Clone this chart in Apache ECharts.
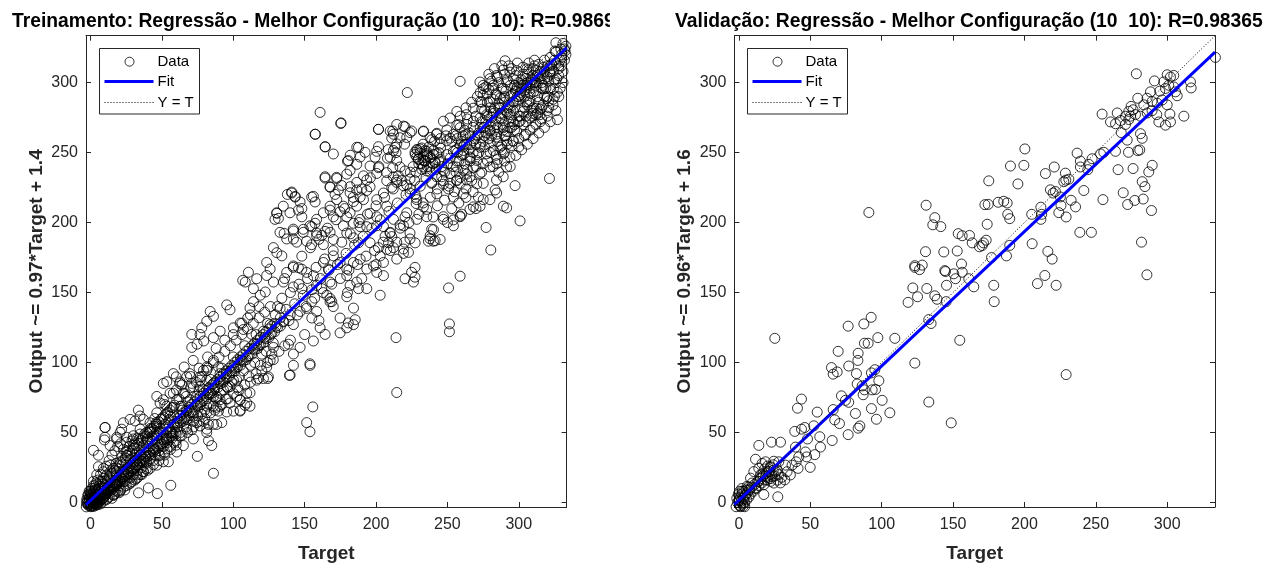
<!DOCTYPE html>
<html><head><meta charset="utf-8">
<script src="https://cdn.jsdelivr.net/npm/echarts@6/dist/echarts.min.js"></script>
<style>html,body{margin:0;padding:0;background:#fff}#c{width:1277px;height:568px}</style>
</head><body><div id="c"></div>
<script>
// ---------- data ----------
const ticks = [0, 50, 100, 150, 200, 250, 300];
const axisRange = [-3.2, 333.5];
const titles = ['Treinamento: Regressão - Melhor Configuração (10  10): R=0.98695',
                'Validação: Regressão - Melhor Configuração (10  10): R=0.98365'];
const yLabels = ['Output ~= 0.97*Target + 1.4', 'Output ~= 0.96*Target + 1.6'];
const xLabel = 'Target';
const legendNames = ['Data', 'Fit', 'Y = T'];
const trainFit = [[-3.2, -1.7], [333.5, 324.9]];
const valFit = [[-3.2, -1.5], [333.5, 321.8]];
const identityLine = [[-3.2, -3.2], [333.5, 333.5]];

const trainSparse = [
[175.3,270.8],[157.3,263.1],[164.4,254.0],[201.7,266.6],[211.7,265.4],[211.0,260.3],[214.5,270.1],[220.3,268.5],[225.0,265.4],[216.8,260.6],[208.6,252.1],[213.3,253.7],[200.5,250.9],[199.3,246.7],[187.7,253.7],[192.3,250.2],[181.9,248.1],[180.0,243.9],[186.5,241.6],[170.1,249.0],[233.2,265.0],[239.0,259.2],[242.6,263.8],[249.6,266.2],[256.6,269.6],[262.5,262.6],[265.8,255.6],[270.6,248.6],[258.9,255.6],[251.9,260.3],[245.2,253.3],
[228.5,252.1],[230.8,249.8],[233.2,247.4],[235.5,250.9],[237.9,246.3],[229.7,245.1],[227.4,248.6],[234.4,243.9],[240.2,248.6],[232.0,253.3],[241.4,242.8],[244.9,245.1],[249.6,248.6],[254.2,250.9],[256.6,243.9],[261.2,248.6],[265.9,243.9],[268.2,239.2],[263.5,234.6],[258.9,232.3],[270.6,227.6],
[201.7,239.2],[207.5,235.7],[211.7,239.2],[215.6,233.4],[220.3,236.9],[223.8,231.1],[207.5,229.9],[211.0,225.2],[214.5,228.7],[219.2,226.3],[223.8,224.0],[227.4,220.1],[195.8,240.4],[191.2,233.4],[186.5,228.7],[193.5,222.9],[188.9,218.2],[179.5,234.6],[172.4,232.3],[175.9,226.5],[167.8,225.2],[164.3,231.8],[171.3,220.1],[181.8,221.3],[184.2,215.0],[235.5,236.9],[239.0,228.7],[242.6,220.5],[247.2,227.4],[250.7,224.0],[254.2,218.2],[256.6,229.9],[261.2,220.5],[268.2,211.2],[271.7,218.2],[247.2,204.2],[254.2,201.9],[258.9,204.2],[240.2,194.9],[244.9,187.9],[237.8,188.4],[236.7,186.7],[240.2,186.7],[233.2,211.2],[235.5,204.2],[228.1,213.6],
[137.9,220.1],[140.9,221.8],[143.3,218.2],[146.8,214.7],[145.6,208.9],[148.0,210.0],[154.9,218.2],[157.3,214.7],[148.0,204.1],[130.5,206.6],[131.6,203.0],[135.6,192.3],[154.9,197.1],[157.3,199.5],[158.4,192.5],[164.3,193.7],[167.8,208.9],[170.1,204.1],[174.8,207.7],[179.5,204.1],[184.2,199.5],[188.9,197.1],[193.5,197.1],[179.5,192.5],[184.2,189.1],[187.7,185.6],[195.8,206.6],[200.5,204.1],[205.2,197.1],[209.8,192.5],[206.3,190.2],[208.7,185.6],[212.2,182.1],[201.7,182.1],[195.8,185.6],[170.1,187.9],[163.1,184.2],[151.4,186.7],[154.9,184.2],[149.1,195.2],[142.1,194.0],[142.1,188.2],[162.0,190.8],[216.8,198.3],[220.3,204.1],[223.8,192.5],[227.4,185.5],[222.7,178.7],[219.2,181.1],[214.5,173.9],
[128.1,182.1],[130.5,178.5],[134.0,176.2],[123.4,171.5],[125.8,166.8],[123.4,162.2],[128.1,157.5],[135.1,157.5],[137.4,164.4],[142.1,169.0],[145.6,167.8],[148.0,166.7],[151.4,164.4],[156.1,162.1],[158.4,155.1],[161.9,152.8],[165.5,148.1],[167.8,145.8],[155.0,143.5],[148.0,152.8],[142.1,154.0],[116.4,159.9],[110.6,164.5],[108.4,157.5],[114.1,152.8],[118.9,148.1],[122.4,150.4],[114.1,143.5],[111.7,138.9],[106.6,158.7],[170.1,176.2],[174.8,171.5],[179.5,166.8],[184.2,171.5],[188.9,173.8],[193.5,166.8],[198.2,169.0],[200.5,164.4],[202.9,176.2],[205.2,171.5],[207.5,180.8],[205.2,162.1],[193.5,152.8],[186.5,157.5],[181.8,155.1],[179.5,162.1],[202.9,148.1],[220.3,159.9],[224.9,164.5],[227.3,168.0],[227.3,161.0],[226.2,157.5],[258.9,161.7],[250.8,153.3],[219.2,178.0],[163.1,171.5],[166.6,166.8],[167.8,157.5],[169.0,143.5],[179.5,147.0],[187.7,152.8],[184.2,138.9],[251.4,127.6],[251.4,122.0],
[95.4,141.2],[97.7,137.7],[83.8,136.5],[86.1,133.0],[81.4,129.5],[77.9,124.8],[76.7,120.1],[70.9,120.1],[70.9,110.8],[74.6,113.1],[79.3,115.4],[86.1,117.8],[90.8,122.4],[100.1,124.8],[104.8,128.2],[110.1,131.8],[107.1,123.6],[112.9,120.1],[116.4,113.1],[121.1,122.4],[125.8,127.1],[129.4,134.1],[132.8,138.7],[135.1,129.5],[139.8,134.1],[142.1,127.1],[146.8,136.5],[151.4,138.7],[155.0,131.8],[158.4,136.5],[160.8,124.8],[164.3,120.1],[167.8,143.4],[174.8,131.8],[180.6,128.3],[184.2,127.1],[185.4,130.6],[174.8,121.2],[179.5,124.8],[156.1,115.4],[153.7,99.1],[142.1,106.1],[138.6,113.1],[146.8,110.8],[128.1,110.8],[125.8,101.5],[123.4,96.8],[139.8,91.0],[214.0,117.8],[214.5,78.6],[155.7,68.3],[151.4,57.1],[153.7,50.6],
[53.4,86.3],[51.0,73.4],[62.4,85.1],[60.1,80.4],[63.6,68.8],[67.0,75.8],[69.4,92.1],[71.9,101.5],[65.6,96.8],[60.0,89.8],[70.9,85.1],[76.7,89.8],[79.1,94.4],[81.4,96.8],[86.1,101.5],[89.6,96.8],[76.7,82.8],[81.4,87.4],[83.8,78.1],[90.8,87.4],[95.4,92.1],[100.1,96.8],[104.8,101.5],[102.4,87.4],[97.7,82.8],[104.8,73.4],[109.4,78.1],[116.4,87.4],[121.1,88.6],[124.6,89.8],[111.7,68.8],[104.8,65.3],[100.1,65.3],[90.8,68.8],[86.1,75.8],[81.4,68.8],[77.9,63.0],[74.4,57.1],[72.1,61.8],[67.4,65.3],[63.9,59.5],[58.1,55.9],[53.4,52.4],[48.7,50.1],[46.4,54.7],[44.1,47.7],[41.8,50.1],[39.4,45.4],[34.7,48.9],[30.0,45.4],[25.4,46.6],[20.7,50.1],[18.3,46.6],[10.1,53.6],[10.1,46.6],[76.7,54.7],[81.4,52.4],[86.1,55.9],[89.6,65.3],[91.9,57.1],
[326.0,328.5],[325.4,322.6],[332.4,322.6],[323.1,313.3],[290.4,315.6],[288.1,312.1],[258.9,300.9],[221.9,292.9],[160.8,278.7],[175.5,271.2],[157.5,263.1],[164.3,254.2],[201.7,266.6],[321.5,231.5],[327.1,273.5],[297.4,226.4],[283.4,223.3],[300.9,201.2],[277.1,196.5],[280.4,180.4],
[186.5,253.8],[188.8,246.8],[180.6,244.3],[181.8,237.3],[164.3,232.7],[172.5,231.5],[167.8,225.6],[173.6,223.3],[181.8,225.6],[186.5,223.3],[193.5,230.4],[200.5,235.1],[201.7,254.2],[209.9,265.4],[212.2,263.1],[219.2,268.9],[223.8,264.3],[221.5,260.8],[214.5,256.2],[212.2,251.5],[209.9,246.8],[214.5,244.4],[216.8,239.7],[212.2,232.7],[214.5,230.4],[221.5,226.9],[223.8,221.1],[228.5,216.4],[233.2,265.4],[237.9,260.8],[242.5,263.1],[247.2,272.4],[251.9,274.7],[256.6,279.4],[263.4,277.1],[268.1,281.7],[272.8,286.4],[275.1,295.7],[272.8,300.4],[279.8,302.8],[284.5,305.1],[293.8,307.5],[298.5,308.6],[305.6,309.8],[312.5,308.6],[317.2,310.9],[321.9,307.5],[326.6,302.8],[324.3,295.7],[319.6,288.7],[312.5,281.7],[314.9,277.1],[307.9,274.7],[305.6,286.4],[310.3,293.4],[303.2,298.1],[298.5,295.7],[296.2,286.4],[293.8,277.1],[298.5,265.4],[296.2,258.4],[293.8,246.8],[291.5,239.7],[289.1,232.7],[284.4,230.4],[275.1,228.0],[272.8,235.1],[265.8,232.7],[261.1,237.3],[256.4,239.7],[251.8,235.1],[247.1,237.3],[242.5,232.7],[237.7,239.7],[233.2,244.4],[228.5,246.8],[230.8,252.6],[235.5,249.1],[240.2,251.5],[244.8,256.1],[249.5,258.4],[254.2,263.1],[258.9,267.8],[263.5,270.1],[268.2,272.4],[272.9,274.7],[277.5,277.1],[282.2,279.4],[286.9,281.7],[289.2,288.7],[284.5,291.0],[279.8,286.4],[275.1,267.8],[279.8,265.4],[284.5,263.1],[289.2,267.8],[286.9,253.8],[282.2,251.5],[277.5,249.1],[272.9,253.8],[268.2,258.4],[263.5,256.1],[261.1,251.5],[265.8,246.8],[270.5,244.4],[275.1,242.1],[279.8,239.7],[284.5,242.1],[289.2,249.1],[291.5,258.4],[293.8,267.8],[300.9,272.4],[303.2,279.4],[307.9,300.4],[314.9,302.8],[317.2,295.7],[291.5,300.4],[289.2,295.7],[296.2,302.8],[300.9,291.0],[282.2,298.1],[286.9,274.7],[291.5,279.4],
[227.3,250.2],[229.7,245.6],[232.0,242.1],[234.4,251.4],[237.9,246.7],[241.3,243.2],[233.2,239.7],[242.5,249.0],
[246.0,232.7],[251.9,228.0],[256.6,230.4],[263.5,230.4],[275.1,216.4],[279.8,216.4],[284.5,221.1],[289.2,211.7],[291.5,210.5],[272.9,211.7],[265.8,209.4],[258.9,204.7],[254.2,197.7],[247.2,202.3],[239.0,195.3],[235.5,209.4],[237.9,190.6],[241.4,187.1],[228.5,202.3],[221.5,207.0],[219.2,197.7],[212.2,202.3],[207.5,211.7],[205.2,221.1],[200.5,216.4],[195.8,225.6],[191.2,216.4],[186.5,211.7],[181.8,207.0],[177.1,211.7],[172.5,216.4],[167.8,211.7],[163.1,207.0],[158.4,202.3],[153.7,197.7],[149.0,193.0],[142.0,195.3],[139.7,207.0],[135.0,211.7],[130.4,207.0],[129.2,202.3],[132.7,193.0],[137.4,188.3],[144.4,186.0],[158.4,190.6],[167.8,193.0],[177.1,197.7],[188.8,202.3],[200.5,197.7],[209.9,193.0],[214.5,186.0],[223.8,188.3],[140.9,221.1],[143.3,218.7],[156.1,218.7],
[139.3,90.9],[153.8,98.0],[142.1,98.0],[124.1,88.6],[117.6,88.6],[111.7,78.4],[108.2,69.4],[104.7,65.9],[95.4,64.7],[86.1,20.9],[74.8,33.0],[84.9,40.7],[82.6,44.2],[81.4,50.0],[82.6,55.8],[88.4,55.8],[54.5,29.1],[56.2,12.3],[46.8,6.4],[33.6,6.9],[40.5,10.4],[20.7,8.1],[16.0,5.7],[10.2,53.6],[9.7,44.7],[2.0,37.3],[5.5,33.8],[5.5,25.6],
[46.4,75.8],[51.0,85.1],[58.0,92.1],[62.7,86.2],[67.4,89.8],[72.0,82.6],[76.7,87.4],[81.4,94.4],[86.1,85.1],[90.7,92.1],[95.4,82.8],[100.1,87.4],[102.4,75.8],[97.7,71.1],[90.7,73.4],[86.1,68.8],[81.4,64.1],[76.7,71.1],[72.0,64.1],[67.4,59.4],[62.7,68.8],[60.4,57.0],[55.7,61.8],[51.0,54.8],[46.4,64.1],[41.7,57.0],[37.0,59.4],[34.7,52.4],[27.7,59.4],[23.0,57.0],[21.8,52.4],[33.5,66.0],[31.2,58.3],[34.7,61.8],[18.3,45.4],[13.7,40.7],[25.3,43.1],[30.0,47.7],[39.3,43.1],[44.0,38.3],[48.7,33.6],[53.4,38.3],[58.0,43.1],[62.7,47.7],[67.4,52.4],[72.0,45.4],[65.0,40.7],[60.4,36.1],[51.0,29.1],[46.4,26.7],[41.7,24.4],[37.0,22.1],[32.3,19.7],[27.7,17.4],[23.0,15.1],[18.3,12.7],[13.7,10.4],[9.0,8.1],[4.3,5.7],[2.0,1.1],[-0.4,-1.3],[0.8,3.4],[6.7,1.1],[3.2,10.5],[6.7,15.1],[11.3,19.7],[16.0,24.4],[20.7,29.1],[25.3,33.8],[30.0,38.5],[34.7,33.8],[39.3,29.1],[30.0,29.1],[23.0,22.1],[18.3,19.8],[9.0,17.4],[13.7,26.7],[9.0,24.4],[4.3,19.8],[2.0,15.1],[-0.4,8.1],[-1.5,5.7],[-2.7,2.2],[4.3,-1.3],[9.0,3.4],[46.4,47.7],[51.0,45.4],[55.7,50.1],[39.3,50.1],[74.4,75.8],[69.8,73.4],[65.0,78.1],[60.4,73.4],[55.7,78.1],[53.4,68.8],[48.7,71.1],[79.1,80.4],[83.7,78.1],[88.4,75.8],[93.1,80.4],[104.7,73.4],[109.4,71.1]
];

const trainDenseLow = [
[-3.0,-3.1],[-2.5,0.5],[-2,2],[-1.5,-2],[-1,1],[-0.5,4],[0,-1],[0.5,2.5],[1,-2.5],[1.5,0],[2,3],[2.5,-1],[3,1.5],[3.5,5],[4,-0.5],[4.5,2],[5,6],[5.5,3],[6,0.5],[6.5,4.5],[7,8],[7.5,2],[8,5.5],[8.5,10],[9,3.5],[9.5,7],[10,12],[10.5,5],[11,9],[11.5,14],[12,7],[0,7],[1,10],[2,12],[3,9],[-2,5],[-1,8],[4,14],[6,12],[8,15],[-2.8,-0.5],[0.2,-3],[2.2,-2.8],[3.8,-2],[5.2,-1.5],
[0.5,0.5],[1.5,2],[2.5,4],[3.5,1],[4.5,3.5],[5.5,5],[6.5,2.5],[7.5,6],[8.5,3],[9.5,8.5],[10.5,6.5],[11.5,10],[12.5,8],[13.5,12],[14.5,9],[15.5,14],[16.5,11],[17.5,16],[18.5,13],[19.5,18],[20.5,15],[21.5,20],[22.5,17],[23.5,22],[24.5,19],[25.5,24],[26.5,21],[27.5,26],[28.5,23],[29.5,28],[30.5,25],[31.5,30],[32.5,27],[33.5,32],[34.5,29],[35.5,34],[36.5,31],[37.5,36],[38.5,33],[39.5,38],[1,6],[3,12],[5,16],[7,20],[9,22],[11,26],[13,30],[15,34],[17,37],[19,40],[21,42],[23,38],[25,36],[27,40],[29,44],[31,42],[33,46],[-1,-2],[0,-2.5],[2,-2],[3,-1],[5,0],[7,-1],[9,1],[11,2],[13,4],[15,3],[17,6],[19,8],[21,9],[23,11],[25,12],[27,13],[29,15],[31,16],[33,18],[35,20],[37,22],[39,24],[-2,-1],[-1,3],[0,5],[1,1],[2,8],[4,9],[6,10],
[13,10],[14,16],[15,12],[16,19],[17,14],[18,22],[19,16],[20,24],[21,18],[22,27],[23,20],[24,15],[25,29],[26,22],[27,18],[28,31],[29,25],[30,20],[31,34],[32,27],[33,23],[34,37],[35,30],[36,25],[37,41],[38,33],[39,28],[40,44],[41,36],[42,31],[43,47],[44,39],[45,34],[46,50],[47,42],[48,37],[49,53],[50,45],[51,40],[52,56],[53,48],[54,43],[55,59],[56,51],[57,46],[58,62],[59,54],[60,49],[14,22],[18,28],[22,33],[26,37],[30,41],[34,45],[38,49],[42,53],[46,57],[16,8],[20,12],[24,9],[28,14],[32,17],[36,20],[40,23],[44,27],[48,30],[52,34],[56,38],[60,41],[12,3],[16,5],[20,7],
[1.2,4.2],[2.8,6.4],[4.1,7.8],[5.6,9.9],[7.2,11.4],[8.8,12.8],[10.3,15.3],[11.9,17.0],[13.4,18.6],[15.0,20.8],[16.6,22.9],[18.1,24.6],[19.7,26.3],[21.2,28.4],[22.8,30.1],[24.4,31.8],[25.9,33.6],[27.5,35.2],[29.0,36.9],[30.6,39.0],[32.2,40.8],[33.7,42.4],[35.3,44.1],[36.8,46.0],[38.4,47.5],[40.0,49.2],[41.5,51.0],[43.1,52.6],[44.6,54.3],[46.2,56.0],[1.8,-0.8],[3.3,0.6],[4.9,1.9],[6.4,3.2],[8.0,4.7],[9.6,6.0],[11.1,7.3],[12.7,8.8],[14.2,10.1],[15.8,11.5],[17.4,12.9],[18.9,14.3],[20.5,15.7],[22.0,17.1],[23.6,18.4],[25.2,19.9],[26.7,21.2],[28.3,22.6],[29.8,24.0],[31.4,25.3],[33.0,26.8],[34.5,28.1],[36.1,29.5],[37.6,30.9],[39.2,32.2],[40.8,33.7],[42.3,35.0],[43.9,36.4],[45.4,37.8],[47.0,39.1],[48.6,40.6],[50.1,41.9],[51.7,43.3],[53.2,44.7],[54.8,46.0],[56.4,47.5],[57.9,48.8],[59.5,50.2],[47.8,57.7],[49.3,59.3],[50.9,61.0],[52.4,62.8],[54.0,64.5],[55.6,66.1],[57.1,67.8],[58.7,69.6]
];

const trainDenseMid = [
[62,58],[64,66],[66,60],[68,72],[70,64],[72,58],[74,70],[76,80],[78,72],[80,66],[82,78],[84,88],[86,80],[88,74],[90,86],[92,96],[94,88],[96,82],[98,94],[100,104],[102,96],[104,90],[106,102],[108,112],[110,104],[112,98],[114,110],[116,120],[118,112],[120,106],[122,118],[124,128],[126,120],[128,114],[130,126],[63,50],[67,54],[71,52],[75,62],[79,58],[83,70],[87,66],[91,78],[95,74],[99,86],[103,82],[107,94],[111,90],[115,100],[119,98],[123,108],[127,106],
[41,40],[43,44],[45,38],[47,46],[49,42],[51,50],[53,46],[55,54],[57,50],[59,58],[61,54],[63,62],[65,58],[67,66],[69,62],[71,70],[73,66],[75,74],[77,70],[79,78],[81,74],[83,82],[85,78],[87,86],[89,82],[91,90],[93,86],[95,94],[97,90],[99,98],[101,94],[103,102],[105,98],[107,106],[109,102],[111,110],[113,106],[115,114],[117,110],[119,118],[121,114],[123,122],[125,118],[127,126],[129,122],[42,52],[46,56],[50,60],[54,64],[58,68],[62,74],[66,78],[70,82],[74,86],[78,90],[82,96],[86,100],[90,104],[94,108],[98,112],[102,116],[106,120],[110,124],[114,128],[118,132],[122,136],[126,140],[44,30],[48,34],[52,36],[56,40],[60,44],[64,48],[68,50],[72,54],[76,58],[80,60],[84,64],[88,68],[92,70],[96,74],[100,78],[104,80],[108,84],[112,86],[116,92],[120,94],[124,100],[128,102],[132,108],[136,112],[140,116],[45,60],[52,70],[58,78],[64,84],[70,90],[76,96],[82,104],[88,110],[94,116],[100,120],[106,128],[112,134],[118,140],
[131,140],[134,146],[137,138],[140,150],[143,142],[146,156],[149,148],[152,160],[155,152],[158,168],[161,160],[164,174],[167,166],[170,180],[173,170],[176,186],[179,178],[182,192],[185,184],[188,200],[191,190],[194,206],[197,196],[200,212],[203,202],[206,218],[209,208],[212,224],[215,214],[218,230],[221,220],[224,236],[133,126],[139,130],[145,134],[151,140],[157,146],[163,150],[169,156],[175,160],[181,166],[187,170],[193,176],[199,180],[205,186],[211,190],[217,196],[223,200],[136,160],[142,168],[148,176],[154,182],[160,188],[166,196],[172,202],[178,210],[184,218],[190,224],[196,232],[202,240],[208,246],[214,250],[220,256],[150,120],[160,130],[170,140],[180,150],[190,160],[200,170],[210,180],[220,186],
[61,60],[63,57],[65,64],[67,61],[69,68],[71,65],[73,72],[75,69],[77,76],[79,73],[81,80],[83,77],[85,84],[87,81],[89,88],[91,85],[93,92],[95,89],[97,96],[99,93],[101,100],[103,97],[105,104],[107,101],[109,108],[111,105],[113,112],[115,109],[117,116],[119,113],[121,120],[123,117],[125,124],[127,121],[129,128],[131,125],[133,132],[135,129]
];

const trainDenseHigh = [
[300,300],[302,296],[305,303],[308,298],[310,305],[312,300],[315,308],[318,303],[320,312],[322,306],[325,316],[328,312],[330,320],[332,324],[296,292],[298,305],[294,298],[290,290],[292,302],[288,296],[286,285],[284,292],[282,288],[280,282],[278,292],[276,280],[274,286],[300,288],[304,290],[308,292],[312,294],[316,296],[306,284],[310,282],[296,280],[292,278],[288,274],[284,270],[280,266],[276,262],[290,262],[295,268],[300,272],[305,276],[310,278],[314,286],[318,290],[322,296],[326,300],[303,311],[307,314],[311,316],[295,310],[299,314],[329.5,324],[331,328],[333,326],
[271,262],[273,268],[275,258],[277,272],[279,260],[281,275],[283,266],[285,258],[287,278],[289,270],[291,262],[293,284],[295,275],[297,266],[299,290],[301,280],[303,270],[305,295],[307,286],[309,276],[311,300],[313,290],[315,281],[317,305],[319,296],[321,287],[323,310],[325,302],[327,293],[329,316],[331,308],[270,276],[274,281],[278,286],[282,296],[286,300],[290,306],[294,283],[298,287],[302,302],[306,306],[310,310],[314,313],[318,316],[322,318],[326,322],[272,250],[276,254],[280,257],[284,261],[288,255],[292,265],[296,272],[300,276],[304,282],[308,287],[312,277],[316,282],[320,290],[324,288],[328,305],[285,245],[290,250],[295,255],[300,260],[305,263],[310,268],[315,272],[320,276],[283,282],[287,289],[291,294],[297,298],[301,293],[305,298],[309,302],[313,305],[317,298],[321,301],[273,293],[277,297],[281,301],[285,304],[289,309],[293,312],[275,291],[279,295],[299,297],[303,306],[307,309],[311,312],[270,240],[274,236],[278,244],[282,240],[286,236],[290,244],[294,240],[298,248],[302,252],[306,256],[310,260],[314,264],[318,268],[322,272],[326,280],[330,312],
[226,240],[228,236],[230,242],[232,238],[234,244],[236,240],[238,236],[240,242],[242,238],[244,244],[246,240],[248,236],[250,242],[252,246],[254,240],[256,236],[258,244],[260,248],[262,242],[264,238],[266,246],[268,250],[227,230],[231,226],[235,232],[239,228],[243,224],[247,230],[251,226],[255,222],[259,228],[263,224],[267,230],[229,252],[233,256],[237,254],[241,258],[245,260],[249,262],[253,258],[257,260],[261,262],[265,264],[228,218],[233,214],[238,218],[243,212],[248,216],[253,210],[258,214],[263,218],[268,222],[230,206],[240,204],[250,200],[260,206],[270,210],[236,248],[244,250],[256,252],[262,256],
[256,262],[258,270],[260,258],[262,266],[264,274],[266,262],[268,268],[270,256],[272,264],[274,272],[276,268],[278,276],[280,270],[282,278],[284,274],[286,282],[288,278],[290,286],[292,282],[294,290],[296,286],[298,294],[300,290],[302,298],[304,294],[306,300],[308,296],[310,302],[312,298],[314,304],[316,300],[318,308],[320,304],[322,312],[324,308],[326,314],[328,310],[330,318],[257,250],[261,254],[265,252],[269,260],[273,256],[277,264],[281,262],[285,268],[289,266],[293,272],[297,270],[301,276],[305,272],[309,280],[313,278],[317,284],[321,282],[325,290],[329,296],[259,276],[263,282],[267,286],[271,290],[275,298],[279,306],[283,310],[280,250],[284,248],[288,252],[292,256],[296,258],[300,254],[304,262],[308,266],[312,270],[316,274],[320,280],[324,284],[328,290],[332,316],[333,320],[331,300]
];

const valPoints = [
[123.2,168.0],[126.5,166.4],[144.7,165.0],[150.5,163.4],[156.4,164.5],[151.7,159.9],[145.4,155.2],[121.8,153.3],[131.6,152.9],[125.1,147.0],[118.5,143.0],[137.2,147.7],[138.8,145.2],[145.1,143.5],[161.0,159.9],[164.5,154.1],[178.5,155.2],[178.8,143.5],[209.1,156.4],[214.3,162.2],[222.2,155.2],[133.0,130.7],[134.6,127.9],[154.7,115.9],[123.2,99.6],[133.0,71.8],[148.7,56.9],[229.2,91.4],[25.1,117.3],[76.5,126.0],[87.5,127.6],[92.6,132.3],[69.5,108.0],[83.5,106.6],[87.9,113.8],[90.5,113.8],[97.3,117.8],[109.2,117.3],[83.3,101.5],[64.8,96.4],[66.0,91.7],[68.8,93.3],[76.9,97.5],[82.3,92.1],[95.2,94.9],[92.8,92.6],[98.0,87.0],[82.8,84.7],[86.3,83.3],[87.9,80.5],[87.0,77.0],[93.3,80.5],[95.7,80.8],[100.3,73.0],[71.8,76.2],[74.6,73.0],[76.9,71.6],[92.8,67.1],[105.7,64.1],[96.3,59.5],[81.6,63.6],[67.1,59.0],[66.0,66.4],[70.4,56.4],[83.5,53.1],[84.7,54.7],[76.5,48.5],[65.3,44.3],[43.8,73.9],[41.0,67.4],[54.8,64.6],[43.8,52.4],[46.1,53.6],[39.1,50.8],[52.4,54.8],[56.6,47.0],[48.0,45.4],[57.1,39.6],[53.1,34.2],[49.9,25.1],[46.6,36.1],[39.6,39.6],[41.9,32.6],[40.1,29.1],[37.2,26.7],[41.4,24.4],[47.4,32.6],[13.9,40.8],[22.8,43.1],[29.1,43.1],[11.6,30.9],[16.2,27.9],[24.4,29.5],[27.9,29.1],[32.6,26.7],[33.7,22.0],[36.0,19.7],[32.1,16.2],[27.2,4.1],[17.4,5.7],[22.1,15.1],[18.6,18.6],[20.9,22.1],[13.9,24.4],[10.4,22.1],[8.1,17.4],[13.9,15.1],[17.4,12.7],[23.2,18.6],[24.4,13.9],[11.6,10.4],[6.9,9.2],[4.6,5.7],[3.4,2.2],[1.1,-2.5],[0,1.1],[2.2,8.1],[5.7,11.6],[9.2,13.9],[19.7,16.2],[15.0,19.7],[26.7,23.2],[22.1,25.6],[18.6,29.1],
[-2,-3],[-1,0],[0,2],[0.5,-2],[1,4],[1.5,1],[2,6],[2.5,-1],[3,3],[3.5,8],[4,0],[4.5,5],[5,9],[5.5,2],[6,7],[6.5,11],[7,4],[7.5,9],[8,6],[-1.5,3],[-0.5,6],[0.5,8],[2,10],[3,-2.5],[4,-3],[1,-3],[9,11],[10,8],[11,13],[12,10],[13,15],[14,12],
[15,17],[16,14],[17,19],[18,16],[19,21],[20,18],[21,22],[22,17],[23,20],[24,23],[25,19],[26,22],[18,24],[20,26],[22,25],[24,27],[16,20],[27,16],[28,20],[29,14],[30,18],
[91.0,207.2],[131.1,212.4],[137.2,203.5],[135.8,198.4],[141.4,197.1],[130.7,179.2],[143.5,179.0],[152.9,179.7],[153.6,192.1],[156.4,190.6],[161.5,190.8],[155.9,170.4],[163.4,185.5],[168.5,182.7],[170.4,183.6],[173.2,187.4],[173.9,198.8],[172.3,212.8],[174.6,213.0],[175.0,229.8],[181.6,214.5],[176.9,175.0],[171.3,185.5],[123.2,169.2],[128.4,169.6],[144.2,165.7],
[333.8,318.0],[278.4,306.3],[291.1,301.2],[300.0,305.6],[302.3,304.0],[304.6,305.1],[297.6,300.5],[301.1,298.1],[298.8,295.8],[304.6,296.9],[294.8,293.9],[288.3,293.4],[305.8,293.4],[307.0,290.6],[316.3,300.5],[316.8,296.2],[279.4,288.8],[285.9,288.8],[289.4,286.5],[293.0,285.3],[296.5,287.6],[300.0,284.1],[283.6,284.1],[274.7,283.0],[276.1,280.6],[273.1,279.4],[270.8,276.0],[274.3,276.0],[277.8,277.1],[281.3,276.0],[286.0,278.3],[289.4,279.9],[292.7,277.1],[294.2,271.9],[298.8,269.6],[302.3,271.9],[301.9,277.5],[311.7,276.0],[254.4,277.5],[260.3,271.9],[265.0,278.3],[263.8,270.6],[267.3,272.9],[270.8,270.1],[273.1,273.6],[267.8,264.3],[272.0,258.9],[281.3,263.5],[282.5,260.2],[279.4,251.4],[280.8,251.9],[272.9,250.2],[263.8,250.9],[253.3,249.1],[255.6,250.2],[236.9,249.6],[247.4,245.6],[239.2,243.9],[245.1,241.6],[239.2,239.7],[244.4,237.8],[265.6,237.8],[276.1,238.6],[289.5,240.9],[287.1,236.2],[282.5,229.2],[284.4,225.7],[283.2,216.8],[289.0,208.6],[277.3,215.8],[272.3,212.9],[269.2,221.3],[255.0,216.4],[241.6,222.9],[235.8,211.2],[232.7,215.9],[229.0,230.3],[231.1,231.0],[227.6,229.2],[228.7,235.3],[220.9,239.7],[214.7,235.0],[218.2,223.4],[220.1,221.1],[221.7,222.2],[225.2,218.3],[225.6,212.2],[224.1,207.1],[229.2,204.0],[211.5,211.0],[212.1,205.9],[211.5,202.3],[205.1,205.9],[200.3,252.6],[199.6,240.9],[195.4,227.6],[190.2,240.4],[185.5,215.2],[187.9,214.0],[188.3,205.9],[189.7,202.8],[238.8,193.0],[246.9,193.0],[205.4,184.9],[189.7,183.7],[187.4,176.2],[216.4,179.4],[219.4,173.9],[282.0,186.0],[285.8,162.7]
];

const trainPoints = trainSparse.concat(trainDenseLow, trainDenseMid, trainDenseHigh);

// ---------- layout / style ----------
const FONT = '"Liberation Sans", Arial, Helvetica, sans-serif';
const AX = '#262626';
const TITLE_SIZE = 19.3;
const grids = [
  {left: 86, top: 35.7, width: 480.6, height: 480.6},
  {left: 734.4, top: 35.7, width: 480.6, height: 480.6}
];
const legendBoxes = [{x: 99.5, y: 48.5}, {x: 747.5, y: 48.5}];
const titleX = [12, 675];

const fmt = v => {
  const r = Math.round(v);
  return (Math.abs(v - r) < 1e-6 && ticks.indexOf(r) >= 0) ? String(r) : '';
};

const xAxes = [], yAxes = [];
[0, 1].forEach(g => {
  ['bottom', 'top'].forEach((pos, k) => {
    xAxes.push({
      type: 'value', gridIndex: g, position: pos, min: axisRange[0], max: axisRange[1], splitNumber: 6,
      axisLine: {show: true, onZero: false, lineStyle: {color: AX, width: 1}},
      axisTick: {show: true, inside: true, length: 5, lineStyle: {color: AX, width: 1}},
      axisLabel: {show: k === 0, formatter: fmt, color: AX, fontSize: 16, fontFamily: FONT, margin: 10},
      splitLine: {show: false},
      name: k === 0 ? xLabel : '', nameLocation: 'middle', nameGap: 37,
      nameTextStyle: {fontSize: 19, fontWeight: 'bold', color: AX, fontFamily: FONT}
    });
  });
  ['left', 'right'].forEach((pos, k) => {
    yAxes.push({
      type: 'value', gridIndex: g, position: pos, min: axisRange[0], max: axisRange[1], splitNumber: 6,
      axisLine: {show: true, onZero: false, lineStyle: {color: AX, width: 1}},
      axisTick: {show: true, inside: true, length: 5, lineStyle: {color: AX, width: 1}},
      axisLabel: {show: k === 0, formatter: fmt, color: AX, fontSize: 16, fontFamily: FONT, margin: 8},
      splitLine: {show: false},
      name: k === 0 ? yLabels[g] : '', nameLocation: 'middle', nameGap: 40, nameRotate: 90,
      nameTextStyle: {fontSize: 19, fontWeight: 'bold', color: AX, fontFamily: FONT}
    });
  });
});

function scatterSeries(data, g) {
  return {
    type: 'scatter', xAxisIndex: g * 2, yAxisIndex: g * 2, data: data,
    symbol: 'circle', symbolSize: 10, clip: false, silent: true, large: false, progressive: 0,
    itemStyle: {color: 'rgba(0,0,0,0)', borderColor: '#000', borderWidth: 0.8, opacity: 1},
    emphasis: {disabled: true}, animation: false, z: 2
  };
}
function lineSeries(data, g, style, z) {
  return {
    type: 'line', xAxisIndex: g * 2, yAxisIndex: g * 2, data: data, symbol: 'none', showSymbol: false,
    lineStyle: style, silent: true, animation: false, z: z, emphasis: {disabled: true}
  };
}
const series = [
  scatterSeries(trainPoints, 0),
  lineSeries(trainFit, 0, {color: '#0000ff', width: 3}, 3),
  lineSeries(identityLine, 0, {color: '#000', width: 1, type: [1, 2]}, 4),
  scatterSeries(valPoints, 1),
  lineSeries(valFit, 1, {color: '#0000ff', width: 3}, 3),
  lineSeries(identityLine, 1, {color: '#000', width: 1, type: [1, 2]}, 4)
];

// ---------- graphics: titles and legends ----------
const graphic = [];
titles.forEach((t, i) => {
  graphic.push({type: 'text', x: titleX[i], y: 22, z: 90,
    style: {text: t, fontSize: TITLE_SIZE, fontWeight: 'bold', fontFamily: FONT, fill: '#000',
      align: 'left', verticalAlign: 'middle', textAlign: 'left', textVerticalAlign: 'middle'}});
});
// left title is cut by the edge of its panel (mid-way through the last visible digit)
(function () {
  const ctx = document.createElement('canvas').getContext('2d');
  ctx.font = 'bold ' + TITLE_SIZE + 'px "Liberation Sans"';
  const visible = titles[0].slice(0, titles[0].length - 2);
  const w = ctx.measureText(visible).width;
  const d = ctx.measureText('9').width;
  const cx = titleX[0] + w + 0.55 * d;
  graphic.push({type: 'rect', z: 95, shape: {x: cx, y: 0, width: titleX[1] - cx - 4, height: 34},
    style: {fill: '#fff'}});
})();
legendBoxes.forEach(b => {
  const L = b.x, T = b.y;
  graphic.push({type: 'rect', z: 100, shape: {x: L, y: T, width: 100, height: 65.5},
    style: {fill: '#fff', stroke: AX, lineWidth: 1}});
  graphic.push({type: 'circle', z: 101, shape: {cx: L + 30, cy: T + 13.2, r: 4.5},
    style: {fill: 'none', stroke: '#000', lineWidth: 0.8}});
  graphic.push({type: 'line', z: 101, shape: {x1: L + 5, y1: T + 33, x2: L + 54, y2: T + 33},
    style: {stroke: '#0000ff', lineWidth: 3}});
  graphic.push({type: 'line', z: 101, shape: {x1: L + 5, y1: T + 54, x2: L + 54, y2: T + 54},
    style: {stroke: '#000', lineWidth: 1, lineDash: [1, 2]}});
  legendNames.forEach((n, i) => {
    graphic.push({type: 'text', z: 101, x: L + 58, y: T + [13.2, 33, 54][i],
      style: {text: n, fontSize: 15, fontFamily: FONT, fill: '#000',
        align: 'left', verticalAlign: 'middle', textAlign: 'left', textVerticalAlign: 'middle'}});
  });
});

const chart = echarts.init(document.getElementById('c'), null, {renderer: 'canvas'});
chart.setOption({
  animation: false,
  backgroundColor: '#fff',
  grid: grids,
  xAxis: xAxes,
  yAxis: yAxes,
  series: series,
  graphic: graphic
});
</script>
</body></html>
